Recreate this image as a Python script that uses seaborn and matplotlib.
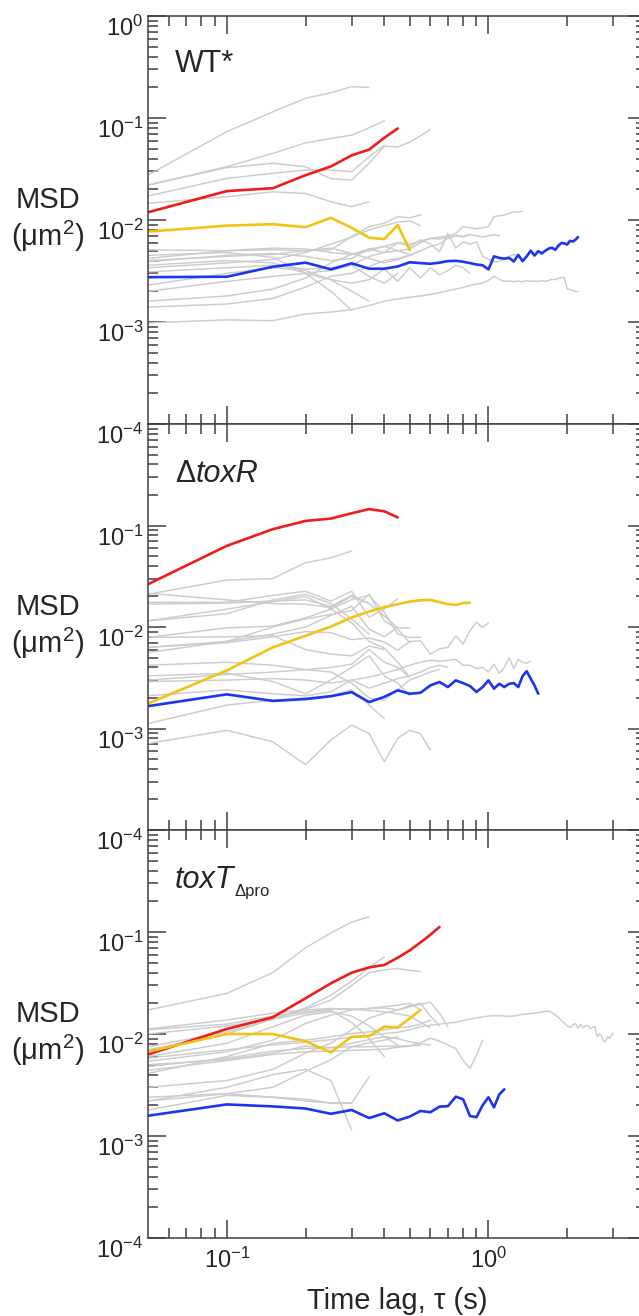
import numpy as np
import pandas as pd
import matplotlib
matplotlib.use("Agg")
import matplotlib.pyplot as plt
import seaborn as sns
from matplotlib.ticker import FixedLocator, NullFormatter, LogLocator

DT = 0.05  # time-lag step (s); every track is sampled at tau = DT, 2*DT, ...

# ------------------------------------------------------------------ WT*
wt_red = [0.0119, 0.0192, 0.0205, 0.0275, 0.0335, 0.0430, 0.0490, 0.0640, 0.0790]
wt_yellow = [0.0077, 0.0088, 0.0091, 0.0085, 0.0105, 0.0084, 0.0067, 0.0065, 0.0089, 0.0051]
wt_blue = [0.00275, 0.00278, 0.00348, 0.00382, 0.00328, 0.00376, 0.00333, 0.00333, 0.00350, 0.00385,
           0.00378, 0.00372, 0.00382, 0.00395, 0.00398, 0.00390, 0.00378, 0.00366, 0.00360, 0.00328,
           0.00440, 0.00425, 0.00418, 0.00425, 0.00392, 0.00455, 0.00395, 0.00440, 0.00500, 0.00448,
           0.00495, 0.00470, 0.00500, 0.00525, 0.00535, 0.00510, 0.00560, 0.00595, 0.00590, 0.00575,
           0.00625, 0.00615, 0.00640, 0.00680]
wt_gray = [
    [0.0276, 0.0734, 0.115, 0.156, 0.177, 0.203, 0.199],
    [0.0220, 0.0333, 0.0450, 0.0570, 0.0630, 0.0680, 0.0800, 0.0940],
    [0.0220, 0.0326, 0.0360, 0.0333, 0.0254, 0.0247, 0.0360, 0.0530, 0.0520, 0.0580, 0.0670, 0.0770],
    [0.0172, 0.0256, 0.0287, 0.0309, 0.0309, 0.0298, 0.0418, 0.0540],
    [0.0146, 0.0169, 0.0189, 0.0182, 0.0151, 0.0135, 0.0151],
    [0.0051, 0.0050, 0.0051, 0.0050, 0.0051, 0.0069, 0.0086, 0.0093, 0.0108, 0.0105, 0.0112],
    [0.0042, 0.0050, 0.0053, 0.0052, 0.0048, 0.0046, 0.0050, 0.0055, 0.0060, 0.0058, 0.0062, 0.0066,
     0.0068, 0.0070, 0.0074, 0.0086, 0.0084, 0.0082, 0.0084, 0.0086, 0.0108, 0.0110, 0.0112, 0.0116,
     0.0120, 0.0120, 0.0122],
    [0.0039, 0.0045, 0.0047, 0.0044, 0.0040, 0.0042, 0.0052, 0.0048, 0.0060, 0.0055, 0.0064, 0.0058,
     0.0049, 0.0074, 0.0053, 0.0061, 0.0058, 0.0061, 0.0044, 0.0041, 0.0039, 0.0039, 0.0042, 0.0044,
     0.0046, 0.0044],
    [0.00098, 0.00105, 0.00103, 0.00120, 0.00125, 0.00132, 0.00145, 0.00160, 0.00168, 0.00175,
     0.00180, 0.00186, 0.00194, 0.00203, 0.00210, 0.00218, 0.00228, 0.00235, 0.00242, 0.00255,
     0.00280, 0.00262, 0.00250, 0.00252, 0.00248, 0.00252, 0.00248, 0.00254, 0.00250, 0.00252,
     0.00250, 0.00254, 0.00250, 0.00256, 0.00262, 0.00260, 0.00268, 0.00274, 0.00272, 0.00210,
     0.00208, 0.00204, 0.00200, 0.00198],
    [0.0036, 0.0040, 0.0038, 0.0030, 0.0026, 0.0024, 0.0026, 0.0033, 0.0025, 0.0034, 0.0027, 0.0034,
     0.0029, 0.0032, 0.0036, 0.0034, 0.0030],
    [0.0045, 0.0048, 0.0043, 0.0030, 0.0020, 0.0013],
    [0.0023, 0.0030, 0.0034, 0.0032, 0.0026, 0.0020, 0.0016],
    [0.0020, 0.0025, 0.0028, 0.0030, 0.0032, 0.0036, 0.0044, 0.0048, 0.0050, 0.0046],
    [0.0016, 0.0018, 0.0021, 0.0027, 0.0038, 0.0046, 0.0052, 0.0055, 0.0050, 0.0052, 0.0060, 0.0066,
     0.0065, 0.0068, 0.0071, 0.0069, 0.0073],
    [0.0034, 0.0038, 0.0041, 0.0048, 0.0058, 0.0068, 0.0080, 0.0088, 0.0095, 0.0098, 0.0088],
    [0.0040, 0.0044, 0.0046, 0.0050, 0.0053, 0.0047, 0.0042, 0.0038, 0.0041, 0.0045, 0.0050, 0.0055,
     0.0058, 0.0066, 0.0070, 0.0068, 0.0072, 0.0070, 0.0068, 0.0070, 0.0072, 0.0070],
    [0.0014, 0.0015, 0.0017, 0.0022, 0.0028, 0.0030, 0.0035, 0.0040, 0.0042, 0.0045, 0.0050],
    [0.0031, 0.0034, 0.0036, 0.0033, 0.0034, 0.0036, 0.0028, 0.0024, 0.0030],
]

# ------------------------------------------------------------------ delta toxR
tr_red = [0.0264, 0.0630, 0.0920, 0.1110, 0.1170, 0.1320, 0.1450, 0.1380, 0.1200]
tr_yellow = [0.00176, 0.00373, 0.0063, 0.0082, 0.0101, 0.0124, 0.0142, 0.0157, 0.0168, 0.0178,
             0.0183, 0.0185, 0.0176, 0.0168, 0.0165, 0.0172, 0.0174]
tr_blue = [0.00166, 0.00217, 0.00187, 0.00195, 0.00208, 0.00228, 0.00182, 0.00205, 0.00238, 0.00220,
           0.00225, 0.00266, 0.00287, 0.00256, 0.00298, 0.00280, 0.00262, 0.00229, 0.00256, 0.00298,
           0.00247, 0.00276, 0.00256, 0.00276, 0.00280, 0.00256, 0.00328, 0.00367, 0.00310, 0.00266,
           0.00220]
tr_gray = [
    [0.021, 0.029, 0.030, 0.043, 0.048, 0.056],
    [0.0215, 0.0185, 0.0170, 0.0168, 0.0155, 0.0200, 0.0170, 0.0128, 0.0098, 0.0098],
    [0.0175, 0.0175, 0.0205, 0.0225, 0.0180, 0.0225, 0.0125, 0.0150, 0.0190],
    [0.0115, 0.0135, 0.0185, 0.0210, 0.0170, 0.0120, 0.0085],
    [0.0079, 0.0098, 0.0102, 0.0123, 0.0150, 0.0186, 0.0205, 0.0140, 0.0085, 0.0079, 0.0079],
    [0.0063, 0.0070, 0.0080, 0.0090, 0.0088, 0.0075, 0.0078, 0.0071, 0.0059, 0.0072, 0.0073, 0.0054,
     0.0061, 0.0063, 0.0082, 0.0068, 0.0092, 0.0111, 0.0099, 0.0110],
    [0.0029, 0.0030, 0.0031, 0.0030, 0.0028, 0.0030, 0.0032, 0.0035, 0.0038, 0.0042, 0.0045, 0.0047,
     0.0046, 0.0047, 0.0048, 0.0042, 0.0042, 0.0039, 0.0040, 0.0036, 0.0043, 0.0035, 0.0040, 0.0050,
     0.0039, 0.0048, 0.0045, 0.0044, 0.0046],
    [0.0021, 0.0024, 0.0022, 0.0021, 0.0023, 0.0030, 0.0025, 0.0028, 0.0031, 0.0033, 0.0036, 0.0040,
     0.0042, 0.0040],
    [0.0030, 0.0034, 0.0036, 0.0038, 0.0036, 0.0028, 0.0020, 0.0019, 0.0024, 0.0030, 0.0033, 0.0036,
     0.0038],
    [0.00071, 0.00096, 0.00074, 0.00044, 0.00077, 0.00108, 0.00089, 0.00047, 0.00080, 0.00096,
     0.00089, 0.00061],
    [0.00112, 0.0017, 0.0019, 0.0020, 0.0021, 0.0024, 0.0017, 0.00125],
    [0.0063, 0.0072, 0.0085, 0.0100, 0.0130, 0.0160, 0.0095, 0.0080, 0.0100],
    [0.0115, 0.0150, 0.0178, 0.0200, 0.0150, 0.0110, 0.0072, 0.0062, 0.0045, 0.0032],
    [0.0056, 0.0072, 0.0100, 0.0120, 0.0133, 0.0145, 0.0210, 0.0115, 0.0095, 0.0070],
    [0.0042, 0.0045, 0.0042, 0.0038, 0.0040, 0.0043, 0.0060, 0.0045, 0.0040, 0.0032],
    [0.0033, 0.0035, 0.0029, 0.0022, 0.0030, 0.0040, 0.0052, 0.0033, 0.0028, 0.0021],
    [0.0079, 0.0080, 0.0082, 0.0060, 0.0054, 0.0052, 0.0065, 0.0060],
    [0.0168, 0.0172, 0.0180, 0.0185, 0.0160, 0.0205, 0.0170],
]

# ------------------------------------------------------------------ toxT delta-pro
tt_red = [0.0063, 0.0112, 0.0146, 0.0224, 0.0314, 0.0399, 0.0450, 0.0475, 0.0560, 0.0660, 0.0790,
          0.0940, 0.1120]
tt_yellow = [0.0067, 0.0100, 0.0100, 0.0085, 0.0066, 0.0094, 0.0095, 0.0118, 0.0116, 0.0142, 0.0172]
tt_blue = [0.00158, 0.00204, 0.00195, 0.00186, 0.00165, 0.00180, 0.00150, 0.00167, 0.00142, 0.00155,
           0.00176, 0.00171, 0.00194, 0.00196, 0.00243, 0.00229, 0.00157, 0.00153, 0.00200, 0.00240,
           0.00191, 0.00256, 0.00287]
tt_gray = [
    [0.0172, 0.0250, 0.0400, 0.0700, 0.0980, 0.1250, 0.1410],
    [0.0070, 0.0100, 0.0140, 0.0180, 0.0240, 0.0330, 0.0450, 0.0570],
    [0.0075, 0.0105, 0.0140, 0.0175, 0.0215, 0.0300, 0.0400, 0.0425, 0.0440, 0.0420, 0.0410],
    [0.0110, 0.0125, 0.0150, 0.0165, 0.0175, 0.0175, 0.0170, 0.0165, 0.0158, 0.0150, 0.0130, 0.0115],
    [0.0100, 0.0120, 0.0140, 0.0160, 0.0170, 0.0130, 0.0090, 0.0060],
    [0.0022, 0.0030, 0.0040, 0.0045, 0.0035, 0.00115],
    [0.0024, 0.0026, 0.0024, 0.0022, 0.0021, 0.0021, 0.0038],
    [0.0054, 0.0067, 0.0087, 0.0127, 0.0153, 0.0172, 0.0178, 0.0185, 0.0192, 0.0200, 0.0172],
    [0.0060, 0.0081, 0.0118, 0.0153, 0.0165, 0.0150, 0.0120, 0.0094, 0.0078],
    [0.0041, 0.0060, 0.0081, 0.0087, 0.0094, 0.0101, 0.0105, 0.0110, 0.0115, 0.0118, 0.0125, 0.0137],
    [0.0030, 0.0035, 0.0045, 0.0065, 0.0081, 0.0110, 0.0143, 0.0160, 0.0172, 0.0190, 0.0200, 0.0150,
     0.0120],
    [0.0022, 0.0026, 0.0030, 0.0043, 0.0056, 0.0075, 0.0082, 0.0087, 0.0094],
    [0.0018, 0.0025, 0.0024, 0.0023, 0.0021, 0.0021],
    [0.0050, 0.0056, 0.0065, 0.0076, 0.0073, 0.0081, 0.0088, 0.0094, 0.0090, 0.0084, 0.0080, 0.0078],
    [0.0048, 0.0058, 0.0068, 0.0072, 0.0074, 0.0075, 0.0075, 0.0076, 0.0076, 0.0077, 0.0077],
    [0.0112, 0.0137, 0.0160, 0.0172, 0.0178, 0.0175, 0.0178, 0.0180, 0.0172, 0.0185, 0.0195, 0.0205,
     0.0160, 0.0118],
    [0.0044, 0.0055, 0.0063, 0.0067, 0.0068, 0.0069, 0.0070, 0.0071, 0.0074, 0.0076, 0.0082, 0.0091,
     0.0085, 0.0078, 0.0072, 0.0055, 0.0046, 0.0062, 0.0087],
    [0.0058, 0.0070, 0.0078, 0.0083, 0.0088, 0.0093, 0.0097, 0.0101, 0.0104, 0.0110, 0.0118, 0.0122,
     0.0125, 0.0128, 0.0130, 0.0136, 0.0140, 0.0144, 0.0147, 0.0150, 0.0151, 0.0151, 0.0150, 0.0149,
     0.0150, 0.0153, 0.0156, 0.0157, 0.0159, 0.0160, 0.0162, 0.0164, 0.0167, 0.0168, 0.0162, 0.0154,
     0.0146, 0.0136, 0.0128, 0.0120, 0.0116, 0.0122, 0.0127, 0.0114, 0.0124, 0.0115, 0.0120, 0.0121,
     0.0113, 0.0116, 0.0118, 0.0094, 0.0100, 0.0096, 0.0086, 0.0084, 0.0094, 0.0090, 0.0098, 0.0102],
]

PANELS = [
    ("WT*", {"gray": wt_gray, "red": [wt_red], "yellow": [wt_yellow], "blue": [wt_blue]}),
    ("toxR", {"gray": tr_gray, "red": [tr_red], "yellow": [tr_yellow], "blue": [tr_blue]}),
    ("toxT", {"gray": tt_gray, "red": [tt_red], "yellow": [tt_yellow], "blue": [tt_blue]}),
]

YTICKS = [1e-4, 1e-3, 1e-2, 1e-1, 1e0]
YLABELS = [r"$\mathregular{10^{-4}}$", r"$\mathregular{10^{-3}}$", r"$\mathregular{10^{-2}}$",
           r"$\mathregular{10^{-1}}$", r"$\mathregular{10^{0}}$"]
XTICKS = [0.1, 1.0]
XLABELS = [r"$\mathregular{10^{-1}}$", r"$\mathregular{10^{0}}$"]
XMINOR = [0.06, 0.07, 0.08, 0.09, 0.2, 0.3, 0.4, 0.5, 0.6, 0.7, 0.8, 0.9, 2.0, 3.0]

# ------------------------------------------------------------------ long table
rows = []
for panel, groups in PANELS:
    for kind, tracks in groups.items():
        for i, vals in enumerate(tracks):
            for k, v in enumerate(vals):
                rows.append({"panel": panel, "kind": kind, "track": f"{kind}{i}",
                             "tau": round(DT * (k + 1), 2), "msd": v})
df = pd.DataFrame(rows)

# ------------------------------------------------------------------ style
sns.set_style("ticks")
plt.rcParams["font.family"] = ["Liberation Sans", "DejaVu Sans"]
plt.rcParams["mathtext.fontset"] = "custom"
plt.rcParams["mathtext.rm"] = "Liberation Sans"
plt.rcParams["mathtext.it"] = "Liberation Sans:italic"
plt.rcParams["mathtext.bf"] = "Liberation Sans:bold"
plt.rcParams["mathtext.sf"] = "Liberation Sans"
plt.rcParams["axes.unicode_minus"] = True

GRAY = "#cccccc"
PALETTE = {"red": "#ee1c1c", "yellow": "#f0c416", "blue": "#1c36ec"}
SPINE = "#404040"

fig = plt.figure(figsize=(6.39, 13.16), dpi=100)
L, W = 148 / 639, 498 / 639
boxes = [(16, 424), (424, 830), (830, 1238)]
axes = []
for (top, bot) in boxes:
    axes.append(fig.add_axes([L, 1 - bot / 1316, W, (bot - top) / 1316]))

for idx, (ax, (panel, groups)) in enumerate(zip(axes, PANELS)):
    ax.set_xscale("log")
    ax.set_yscale("log")
    sub = df[df["panel"] == panel]
    sns.lineplot(data=sub[sub["kind"] == "gray"], x="tau", y="msd", units="track",
                 estimator=None, color=GRAY, linewidth=1.05, sort=False, legend=False, ax=ax)
    col = sub[sub["kind"] != "gray"]
    sns.lineplot(data=col, x="tau", y="msd", hue="kind", palette=PALETTE, units="track",
                 estimator=None, linewidth=1.9, sort=False, legend=False, ax=ax)
    ax.set_xlim(0.05, 4.0)
    ax.set_ylim(1e-4, 1)
    ax.set_xlabel("")
    ax.set_ylabel("")

    ax.set_yticks(YTICKS)
    labs = list(YLABELS)
    if idx > 0:
        labs[-1] = ""
    ax.set_yticklabels(labs)
    ax.yaxis.set_minor_locator(LogLocator(base=10, subs=np.arange(2, 10), numticks=20))
    ax.yaxis.set_minor_formatter(NullFormatter())
    ax.set_xticks(XTICKS)
    ax.set_xticklabels(XLABELS)
    ax.xaxis.set_minor_locator(FixedLocator(XMINOR))
    ax.xaxis.set_minor_formatter(NullFormatter())
    ax.tick_params(which="both", direction="in", top=True, right=True, color=SPINE, width=1.1)
    ax.tick_params(which="major", length=13, labelsize=17)
    ax.tick_params(axis="y", which="major", pad=3.5)
    ax.tick_params(axis="x", which="major", pad=7)
    ax.tick_params(which="minor", length=7)
    if idx < 2:
        ax.tick_params(labelbottom=False)
    for lab in ax.get_yticklabels():
        lab.set_verticalalignment("top")
    for s in ax.spines.values():
        s.set_color(SPINE)
        s.set_linewidth(1.1)

    ax.text(-0.201, 0.5, "MSD\n(μm$^2$)", transform=ax.transAxes, ha="center", va="center",
            fontsize=21, linespacing=1.15, multialignment="center")

# panel names
axes[0].text(0.054, 0.863, "WT*", transform=axes[0].transAxes, fontsize=22, va="baseline")
d = axes[1].text(0.054, 0.857, "Δ", transform=axes[1].transAxes, fontsize=22, va="baseline")
axes[1].annotate("toxR", xy=(1, 0), xycoords=d, xytext=(0, 0), textcoords="offset points",
                 fontsize=22, style="italic", va="bottom", ha="left")
t = axes[2].text(0.054, 0.858, "toxT", transform=axes[2].transAxes, fontsize=22,
                 style="italic", va="baseline")
axes[2].annotate("Δpro", xy=(1, 0), xycoords=t, xytext=(0.5, -1), textcoords="offset points",
                 fontsize=12, va="baseline", ha="left")

axes[2].set_xlabel("Time lag, τ (s)", fontsize=21, labelpad=10)

fig.savefig("out.png", dpi=100)
